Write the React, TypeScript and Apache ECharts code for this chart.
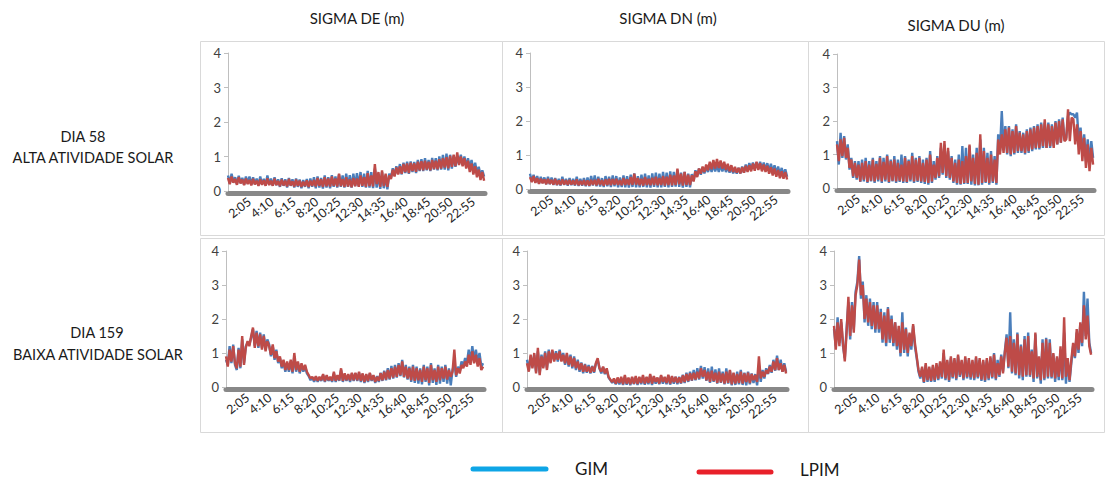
import React, { useEffect, useRef } from 'react';
import * as echarts from 'echarts';

// 5-minute time categories, 0:05 ... 24:00
const CATEGORIES: string[] = Array.from({ length: 288 }, (_, i) => {
  const m = (i + 1) * 5;
  return `${Math.floor(m / 60)}:${String(m % 60).padStart(2, '0')}`;
});
const TICK_LABELS = ['2:05', '4:10', '6:15', '8:20', '10:25', '12:30', '14:35', '16:40', '18:45', '20:50', '22:55'];
const SAMPLE_STEP = 2; // one value every 10 minutes (2 categories); each row below = 2 hours

const COLUMN_TITLES = ['SIGMA DE (m)', 'SIGMA DN (m)', 'SIGMA DU (m)'];
const ROW_TITLES = [
  ['DIA 58', 'ALTA ATIVIDADE SOLAR'],
  ['DIA 159', 'BAIXA ATIVIDADE SOLAR'],
];
const LEGEND_NAMES = ['GIM', 'LPIM'];

// ---- Day 58 ----
const DE58_GIM = [
  0.45, 0.22, 0.5, 0.26, 0.4, 0.2, 0.44, 0.23, 0.38, 0.18, 0.42, 0.22,
  0.42, 0.18, 0.4, 0.2, 0.36, 0.16, 0.42, 0.19, 0.35, 0.16, 0.45, 0.18,
  0.36, 0.15, 0.4, 0.17, 0.34, 0.12, 0.37, 0.15, 0.34, 0.1, 0.38, 0.15,
  0.34, 0.1, 0.36, 0.12, 0.33, 0.08, 0.32, 0.12, 0.35, 0.08, 0.36, 0.12,
  0.4, 0.08, 0.42, 0.1, 0.38, 0.07, 0.45, 0.1, 0.4, 0.08, 0.46, 0.12,
  0.42, 0.1, 0.48, 0.12, 0.45, 0.1, 0.5, 0.12, 0.46, 0.1, 0.5, 0.14,
  0.52, 0.14, 0.55, 0.12, 0.5, 0.1, 0.58, 0.1, 0.55, 0.08, 0.65, 0.1,
  0.5, 0.06, 0.55, 0.08, 0.45, 0.05, 0.5, 0.38, 0.66, 0.45, 0.72, 0.5,
  0.78, 0.48, 0.82, 0.52, 0.85, 0.5, 0.86, 0.55, 0.84, 0.52, 0.9, 0.58,
  0.92, 0.58, 0.95, 0.6, 0.9, 0.58, 0.96, 0.62, 0.95, 0.6, 1.0, 0.62,
  1.05, 0.62, 1.08, 0.6, 1.05, 0.65, 1.02, 0.7, 1.0, 0.78, 1.05, 0.75,
  1.0, 0.72, 0.95, 0.65, 0.9, 0.58, 0.82, 0.52, 0.7, 0.45, 0.6, 0.42,
];
const DE58_LPIM = [
  0.38, 0.2, 0.42, 0.24, 0.35, 0.18, 0.4, 0.22, 0.33, 0.17, 0.36, 0.2,
  0.32, 0.16, 0.35, 0.19, 0.3, 0.15, 0.34, 0.18, 0.31, 0.15, 0.37, 0.17,
  0.3, 0.15, 0.36, 0.17, 0.29, 0.14, 0.33, 0.16, 0.3, 0.13, 0.35, 0.16,
  0.28, 0.13, 0.33, 0.15, 0.3, 0.12, 0.27, 0.14, 0.31, 0.12, 0.3, 0.15,
  0.32, 0.13, 0.38, 0.15, 0.34, 0.12, 0.4, 0.14, 0.36, 0.13, 0.42, 0.15,
  0.36, 0.13, 0.5, 0.14, 0.35, 0.12, 0.4, 0.13, 0.34, 0.11, 0.38, 0.14,
  0.36, 0.12, 0.45, 0.15, 0.4, 0.12, 0.52, 0.14, 0.45, 0.13, 0.78, 0.2,
  0.55, 0.12, 0.6, 0.14, 0.5, 0.12, 0.45, 0.35, 0.62, 0.42, 0.68, 0.48,
  0.72, 0.5, 0.78, 0.55, 0.8, 0.52, 0.82, 0.58, 0.8, 0.56, 0.85, 0.6,
  0.86, 0.6, 0.88, 0.62, 0.85, 0.6, 0.9, 0.64, 0.88, 0.63, 0.92, 0.65,
  0.95, 0.68, 0.98, 0.66, 1.02, 0.7, 1.05, 0.72, 1.12, 0.75, 1.0, 0.72,
  0.95, 0.65, 0.88, 0.55, 0.8, 0.48, 0.72, 0.4, 0.62, 0.32, 0.55, 0.3,
];
const DN58_GIM = [
  0.45, 0.22, 0.42, 0.2, 0.38, 0.16, 0.36, 0.18, 0.34, 0.14, 0.36, 0.14,
  0.34, 0.12, 0.32, 0.11, 0.3, 0.1, 0.36, 0.12, 0.3, 0.1, 0.32, 0.11,
  0.3, 0.1, 0.36, 0.09, 0.3, 0.1, 0.32, 0.08, 0.34, 0.08, 0.38, 0.1,
  0.4, 0.08, 0.36, 0.07, 0.32, 0.06, 0.38, 0.08, 0.36, 0.06, 0.4, 0.08,
  0.38, 0.05, 0.34, 0.06, 0.4, 0.05, 0.38, 0.04, 0.42, 0.06, 0.46, 0.05,
  0.38, 0.05, 0.42, 0.06, 0.45, 0.05, 0.4, 0.04, 0.46, 0.06, 0.48, 0.05,
  0.45, 0.05, 0.5, 0.06, 0.48, 0.05, 0.52, 0.06, 0.5, 0.07, 0.56, 0.06,
  0.48, 0.04, 0.5, 0.06, 0.45, 0.05, 0.44, 0.24, 0.55, 0.38, 0.6, 0.42,
  0.62, 0.46, 0.66, 0.5, 0.7, 0.5, 0.72, 0.52, 0.7, 0.5, 0.72, 0.52,
  0.7, 0.5, 0.66, 0.48, 0.62, 0.46, 0.6, 0.45, 0.62, 0.46, 0.66, 0.48,
  0.72, 0.55, 0.76, 0.58, 0.78, 0.6, 0.78, 0.6, 0.8, 0.58, 0.78, 0.56,
  0.76, 0.52, 0.74, 0.5, 0.7, 0.45, 0.66, 0.42, 0.62, 0.4, 0.58, 0.36,
];
const DN58_LPIM = [
  0.35, 0.2, 0.38, 0.18, 0.32, 0.15, 0.3, 0.17, 0.28, 0.14, 0.3, 0.15,
  0.27, 0.13, 0.3, 0.12, 0.25, 0.12, 0.28, 0.13, 0.26, 0.12, 0.27, 0.13,
  0.25, 0.12, 0.28, 0.11, 0.24, 0.12, 0.26, 0.11, 0.25, 0.1, 0.27, 0.12,
  0.27, 0.11, 0.3, 0.12, 0.26, 0.1, 0.28, 0.12, 0.3, 0.11, 0.29, 0.13,
  0.3, 0.12, 0.26, 0.11, 0.32, 0.12, 0.28, 0.12, 0.35, 0.12, 0.45, 0.13,
  0.32, 0.11, 0.3, 0.1, 0.35, 0.12, 0.3, 0.11, 0.33, 0.12, 0.36, 0.11,
  0.32, 0.12, 0.38, 0.1, 0.36, 0.12, 0.42, 0.11, 0.4, 0.12, 0.6, 0.14,
  0.45, 0.1, 0.5, 0.12, 0.42, 0.12, 0.4, 0.22, 0.52, 0.35, 0.6, 0.45,
  0.66, 0.5, 0.72, 0.55, 0.8, 0.58, 0.85, 0.6, 0.88, 0.62, 0.84, 0.6,
  0.8, 0.56, 0.74, 0.52, 0.7, 0.5, 0.65, 0.48, 0.62, 0.46, 0.64, 0.48,
  0.68, 0.5, 0.7, 0.52, 0.75, 0.54, 0.8, 0.56, 0.76, 0.52, 0.72, 0.5,
  0.68, 0.45, 0.64, 0.4, 0.6, 0.36, 0.56, 0.32, 0.52, 0.3, 0.5, 0.28,
];
const DU58_GIM = [
  1.4, 0.7, 1.65, 0.9, 1.55, 0.85, 1.3, 0.55, 0.9, 0.3, 0.8, 0.25,
  0.8, 0.18, 0.85, 0.2, 0.9, 0.15, 0.8, 0.2, 0.9, 0.15, 0.8, 0.2,
  0.95, 0.15, 0.9, 0.2, 1.0, 0.15, 0.85, 0.2, 0.95, 0.15, 0.85, 0.18,
  1.0, 0.15, 0.95, 0.15, 0.85, 0.2, 1.05, 0.15, 0.9, 0.18, 0.95, 0.15,
  0.85, 0.12, 0.9, 0.1, 1.1, 0.15, 0.8, 0.25, 0.95, 0.3, 1.2, 0.4,
  1.3, 0.3, 1.1, 0.25, 0.95, 0.15, 0.85, 0.1, 1.0, 0.1, 1.25, 0.12,
  1.2, 0.12, 1.25, 0.1, 1.0, 0.08, 1.2, 0.08, 1.45, 0.1, 1.2, 0.15,
  1.05, 0.1, 1.1, 0.15, 0.95, 0.1, 1.6, 1.1, 2.3, 1.15, 1.85, 1.0,
  1.85, 0.95, 1.75, 1.0, 1.9, 1.05, 1.7, 1.05, 1.65, 1.0, 1.75, 1.05,
  1.8, 1.1, 1.85, 1.15, 1.9, 1.15, 1.95, 1.2, 1.95, 1.2, 1.95, 1.2,
  1.9, 1.25, 2.0, 1.3, 2.05, 1.35, 2.1, 1.45, 1.5, 2.15, 2.25, 2.2,
  2.2, 2.1, 2.25, 1.4, 1.8, 1.0, 1.6, 0.8, 1.45, 0.7, 1.4, 0.9,
];
const DU58_LPIM = [
  1.3, 0.8, 1.45, 0.95, 1.5, 0.9, 1.2, 0.6, 0.85, 0.35, 0.75, 0.3,
  0.7, 0.2, 0.75, 0.25, 0.8, 0.18, 0.7, 0.22, 0.85, 0.2, 0.72, 0.25,
  0.9, 0.2, 0.78, 0.25, 0.95, 0.18, 0.8, 0.22, 0.85, 0.2, 0.75, 0.22,
  0.7, 0.2, 0.9, 0.18, 0.8, 0.25, 0.95, 0.2, 0.85, 0.22, 0.9, 0.2,
  0.75, 0.18, 0.85, 0.15, 1.0, 0.2, 0.7, 0.3, 0.9, 0.35, 1.35, 0.45,
  1.4, 0.35, 1.2, 0.3, 0.9, 0.2, 0.75, 0.15, 0.85, 0.12, 0.8, 0.15,
  0.95, 0.15, 1.3, 0.2, 0.9, 0.12, 1.05, 0.1, 1.6, 0.15, 1.1, 0.18,
  0.9, 0.15, 1.0, 0.2, 0.85, 0.15, 1.45, 1.0, 1.6, 1.05, 1.75, 1.05,
  1.8, 1.0, 1.7, 1.05, 1.85, 1.1, 1.65, 1.1, 1.6, 1.05, 1.7, 1.1,
  1.75, 1.15, 1.8, 1.2, 1.85, 1.2, 1.9, 1.25, 2.05, 1.2, 1.9, 1.25,
  1.85, 1.2, 1.95, 1.3, 2.0, 1.35, 2.05, 1.4, 1.45, 2.35, 1.4, 2.1,
  2.05, 1.3, 1.9, 1.0, 1.7, 0.8, 1.5, 0.6, 1.3, 0.5, 1.2, 0.7,
];

// ---- Day 159 ----
const DE159_GIM = [
  0.8, 0.65, 1.2, 0.7, 1.25, 0.65, 0.5, 1.15, 0.55, 1.4, 0.7, 1.2,
  1.3, 1.25, 1.45, 1.7, 1.2, 1.65, 1.15, 1.6, 1.15, 1.55, 1.1, 1.4,
  1.25, 0.9, 1.2, 0.8, 1.1, 0.7, 0.85, 0.55, 0.75, 0.45, 0.7, 0.45,
  0.75, 0.4, 0.9, 0.45, 0.7, 0.4, 0.65, 0.45, 0.6, 0.4, 0.32, 0.2,
  0.28, 0.15, 0.3, 0.15, 0.28, 0.18, 0.35, 0.15, 0.32, 0.18, 0.28, 0.15,
  0.4, 0.15, 0.33, 0.18, 0.5, 0.15, 0.38, 0.18, 0.35, 0.15, 0.4, 0.18,
  0.4, 0.18, 0.42, 0.15, 0.38, 0.12, 0.36, 0.15, 0.4, 0.18, 0.33, 0.12,
  0.32, 0.15, 0.42, 0.18, 0.48, 0.2, 0.55, 0.22, 0.62, 0.25, 0.65, 0.28,
  0.7, 0.32, 0.8, 0.28, 0.65, 0.22, 0.6, 0.15, 0.65, 0.12, 0.6, 0.1,
  0.55, 0.08, 0.65, 0.15, 0.6, 0.05, 0.7, 0.12, 0.55, 0.06, 0.65, 0.1,
  0.6, 0.15, 0.65, 0.1, 0.55, 0.05, 0.5, 0.7, 0.3, 0.6, 0.45, 0.75,
  0.6, 0.85, 0.7, 1.1, 0.75, 1.2, 0.8, 1.1, 0.7, 1.0, 0.6, 0.7,
];
const DE159_LPIM = [
  0.9, 0.6, 1.1, 0.75, 1.2, 0.7, 0.55, 1.1, 0.6, 1.5, 0.65, 1.15,
  1.35, 1.2, 1.5, 1.75, 1.15, 1.6, 1.2, 1.55, 1.1, 1.5, 1.05, 1.35,
  1.2, 0.95, 1.25, 0.85, 1.05, 0.75, 0.9, 0.6, 0.8, 0.5, 0.75, 0.5,
  0.8, 0.45, 1.0, 0.5, 0.75, 0.45, 0.7, 0.5, 0.65, 0.45, 0.35, 0.25,
  0.3, 0.2, 0.32, 0.18, 0.3, 0.2, 0.38, 0.17, 0.35, 0.2, 0.3, 0.18,
  0.45, 0.18, 0.35, 0.2, 0.55, 0.18, 0.4, 0.2, 0.38, 0.19, 0.42, 0.2,
  0.42, 0.2, 0.45, 0.18, 0.4, 0.15, 0.38, 0.18, 0.42, 0.2, 0.35, 0.15,
  0.3, 0.18, 0.4, 0.2, 0.45, 0.22, 0.5, 0.25, 0.55, 0.28, 0.6, 0.3,
  0.65, 0.35, 0.75, 0.3, 0.6, 0.25, 0.55, 0.2, 0.6, 0.18, 0.55, 0.2,
  0.5, 0.15, 0.6, 0.2, 0.55, 0.12, 0.65, 0.2, 0.5, 0.15, 0.6, 0.2,
  0.55, 0.25, 0.6, 0.22, 0.5, 0.3, 0.45, 1.1, 0.35, 0.55, 0.4, 0.65,
  0.55, 0.75, 0.6, 0.95, 0.65, 1.05, 0.7, 0.95, 0.6, 0.85, 0.5, 0.6,
];
const DN159_GIM = [
  0.8, 0.5, 0.9, 0.6, 0.95, 0.45, 1.05, 0.4, 0.95, 0.6, 1.05, 0.55,
  1.1, 0.75, 1.05, 0.8, 1.05, 0.75, 1.1, 0.8, 1.0, 0.65, 0.95, 0.6,
  0.95, 0.55, 0.9, 0.5, 0.8, 0.45, 0.72, 0.4, 0.68, 0.42, 0.65, 0.4,
  0.62, 0.42, 0.68, 0.8, 0.55, 0.4, 0.58, 0.38, 0.5, 0.28, 0.2, 0.12,
  0.2, 0.08, 0.22, 0.08, 0.25, 0.06, 0.3, 0.07, 0.25, 0.05, 0.28, 0.08,
  0.28, 0.06, 0.28, 0.08, 0.3, 0.07, 0.28, 0.08, 0.34, 0.06, 0.3, 0.1,
  0.26, 0.08, 0.32, 0.1, 0.28, 0.08, 0.34, 0.07, 0.3, 0.1, 0.3, 0.08,
  0.3, 0.1, 0.36, 0.12, 0.42, 0.15, 0.45, 0.18, 0.5, 0.2, 0.55, 0.22,
  0.62, 0.25, 0.58, 0.18, 0.55, 0.12, 0.6, 0.15, 0.52, 0.1, 0.55, 0.12,
  0.45, 0.08, 0.55, 0.1, 0.48, 0.05, 0.4, 0.06, 0.45, 0.08, 0.5, 0.06,
  0.42, 0.05, 0.45, 0.08, 0.4, 0.12, 0.38, 0.05, 0.6, 0.15, 0.5, 0.25,
  0.55, 0.38, 0.65, 0.42, 0.8, 0.48, 0.92, 0.5, 0.8, 0.45, 0.7, 0.45,
];
const DN159_LPIM = [
  0.7, 0.45, 0.95, 0.55, 1.0, 0.4, 1.15, 0.35, 0.9, 0.55, 1.0, 0.5,
  1.05, 0.7, 1.1, 0.75, 1.0, 0.8, 1.05, 0.75, 0.95, 0.7, 1.0, 0.65,
  0.9, 0.6, 0.85, 0.55, 0.75, 0.5, 0.7, 0.45, 0.65, 0.45, 0.6, 0.42,
  0.6, 0.45, 0.7, 0.85, 0.55, 0.45, 0.6, 0.4, 0.55, 0.3, 0.22, 0.15,
  0.25, 0.1, 0.28, 0.12, 0.3, 0.08, 0.35, 0.1, 0.28, 0.08, 0.3, 0.1,
  0.32, 0.09, 0.3, 0.12, 0.35, 0.1, 0.3, 0.12, 0.38, 0.1, 0.32, 0.15,
  0.28, 0.1, 0.35, 0.15, 0.3, 0.12, 0.36, 0.1, 0.32, 0.14, 0.3, 0.12,
  0.28, 0.12, 0.34, 0.15, 0.38, 0.18, 0.4, 0.2, 0.42, 0.22, 0.45, 0.25,
  0.55, 0.3, 0.5, 0.2, 0.45, 0.15, 0.48, 0.18, 0.42, 0.12, 0.45, 0.14,
  0.4, 0.1, 0.45, 0.12, 0.5, 0.08, 0.42, 0.1, 0.38, 0.12, 0.45, 0.1,
  0.4, 0.15, 0.42, 0.12, 0.38, 0.2, 0.35, 0.15, 0.9, 0.25, 0.45, 0.3,
  0.5, 0.4, 0.6, 0.45, 0.75, 0.5, 0.85, 0.5, 0.7, 0.45, 0.65, 0.4,
];
const DU159_GIM = [
  1.7, 1.2, 2.05, 1.3, 1.9, 1.2, 0.85, 1.7, 2.5, 1.4, 2.5, 1.7,
  2.8, 3.1, 3.85, 2.6, 3.1, 1.9, 2.7, 1.8, 2.6, 1.7, 2.5, 1.6,
  2.5, 1.6, 2.3, 1.3, 2.2, 1.2, 2.35, 1.3, 2.1, 1.2, 1.9, 1.1,
  1.7, 0.9, 2.2, 1.0, 1.75, 0.9, 1.55, 1.1, 1.8, 1.2, 0.85, 0.45,
  0.25, 0.55, 0.12, 0.65, 0.15, 0.55, 0.15, 0.6, 0.15, 0.65, 0.2, 0.7,
  0.25, 1.0, 0.2, 0.75, 0.15, 0.85, 0.25, 0.8, 0.2, 0.9, 0.3, 0.75,
  0.2, 0.85, 0.25, 0.8, 0.22, 0.75, 0.2, 0.85, 0.25, 0.8, 0.18, 0.75,
  0.15, 0.8, 0.2, 0.85, 0.25, 1.0, 0.2, 0.8, 0.3, 0.95, 0.45, 1.05,
  1.55, 0.55, 2.2, 0.4, 1.4, 0.35, 1.6, 0.25, 1.25, 0.2, 1.5, 0.3,
  1.6, 0.3, 1.1, 0.15, 1.55, 0.25, 0.85, 0.1, 1.4, 0.2, 1.45, 0.25,
  1.4, 0.25, 0.95, 0.15, 0.85, 0.2, 1.1, 0.2, 1.6, 0.1, 0.8, 0.15,
  0.7, 1.2, 0.85, 1.6, 1.0, 1.85, 1.2, 2.8, 1.5, 2.6, 1.3, 1.0,
];
const DU159_LPIM = [
  1.8, 1.1, 1.9, 1.2, 2.0, 1.3, 0.75, 1.6, 2.65, 1.5, 2.4, 1.6,
  2.7, 3.0, 3.75, 2.7, 3.0, 2.0, 2.6, 1.9, 2.5, 1.8, 2.4, 1.7,
  2.4, 1.7, 2.2, 1.4, 2.1, 1.3, 2.3, 1.4, 2.0, 1.3, 1.9, 1.2,
  1.8, 1.0, 1.9, 1.1, 1.7, 1.0, 1.6, 1.2, 1.85, 1.3, 0.9, 0.5,
  0.3, 0.6, 0.15, 0.7, 0.2, 0.6, 0.18, 0.65, 0.2, 0.7, 0.25, 0.75,
  0.3, 1.1, 0.25, 0.8, 0.2, 0.9, 0.3, 0.85, 0.25, 0.95, 0.35, 0.8,
  0.25, 0.9, 0.3, 0.85, 0.28, 0.8, 0.25, 0.9, 0.3, 0.85, 0.22, 0.8,
  0.2, 0.85, 0.25, 0.9, 0.3, 0.95, 0.25, 0.7, 0.35, 0.9, 0.4, 1.0,
  1.45, 0.6, 1.5, 0.45, 1.3, 0.4, 1.55, 0.35, 1.2, 0.3, 1.4, 0.35,
  1.5, 0.35, 1.05, 0.25, 1.6, 0.3, 0.9, 0.2, 1.3, 0.25, 1.4, 0.3,
  1.3, 0.3, 1.0, 0.25, 0.9, 0.3, 1.2, 0.25, 2.05, 0.3, 0.85, 0.2,
  0.8, 1.3, 0.9, 1.7, 1.1, 1.9, 1.3, 2.4, 1.4, 2.1, 1.2, 0.95,
];

const FONT = 'Lato, "Open Sans", sans-serif';
const GIM_COLOR = '#4a7ebb';
const LPIM_COLOR = '#be4b48';

const toPairs = (arr: number[]) => arr.map((v, k) => [k * SAMPLE_STEP, v]);

const PANELS = [
  { gim: DE58_GIM, lpim: DE58_LPIM, left: 228, top: 53, width: 257, height: 138 },
  { gim: DN58_GIM, lpim: DN58_LPIM, left: 530, top: 53, width: 258, height: 136 },
  { gim: DU58_GIM, lpim: DU58_LPIM, left: 837, top: 54, width: 257, height: 134 },
  { gim: DE159_GIM, lpim: DE159_LPIM, left: 226, top: 251, width: 258, height: 136 },
  { gim: DN159_GIM, lpim: DN159_LPIM, left: 527, top: 251, width: 260, height: 136 },
  { gim: DU159_GIM, lpim: DU159_LPIM, left: 834, top: 251, width: 258, height: 136 },
];

export default function App() {
  const ref = useRef<HTMLDivElement>(null);
  useEffect(() => {
    if (!ref.current) return;
    const chart = echarts.init(ref.current, undefined, { renderer: 'svg' });

    const border = '#d9d9d9';
    const boxes: any[] = [];
    const cols = [[200, 502], [502, 808], [808, 1104]];
    const rows = [[41, 235], [238, 432]];
    rows.forEach(([y1, y2]) =>
      cols.forEach(([x1, x2]) =>
        boxes.push({
          type: 'rect',
          shape: { x: x1 + 0.5, y: y1 + 0.5, width: x2 - x1, height: y2 - y1 },
          style: { fill: 'none', stroke: border, lineWidth: 1 },
          silent: true,
        })
      )
    );

    const titlePos = [[357, 18], [668, 18], [956, 25]];
    const titles = COLUMN_TITLES.map((t, i) => ({
      type: 'text',
      x: titlePos[i][0],
      y: titlePos[i][1],
      style: { text: t, fill: '#1a1a1a', font: `15px ${FONT}`, align: 'center', verticalAlign: 'middle' },
    }));

    const rowPos = [
      [[83, 136], [93, 157]],
      [[97, 332], [98, 354]],
    ];
    const rowTexts: any[] = [];
    ROW_TITLES.forEach((lines, r) =>
      lines.forEach((t, j) =>
        rowTexts.push({
          type: 'text',
          x: rowPos[r][j][0],
          y: rowPos[r][j][1],
          style: { text: t, fill: '#1a1a1a', font: `14.5px ${FONT}`, align: 'center', verticalAlign: 'middle' },
        })
      )
    );

    const legend = [
      { type: 'line', shape: { x1: 473, y1: 469, x2: 546, y2: 469 }, style: { stroke: '#0ea5e6', lineWidth: 5, lineCap: 'round' } },
      { type: 'text', x: 575, y: 468, style: { text: LEGEND_NAMES[0], fill: '#1a1a1a', font: `17px ${FONT}`, align: 'left', verticalAlign: 'middle' } },
      { type: 'line', shape: { x1: 699, y1: 472, x2: 771, y2: 472 }, style: { stroke: '#e8202a', lineWidth: 5, lineCap: 'round' } },
      { type: 'text', x: 800, y: 469, style: { text: LEGEND_NAMES[1], fill: '#1a1a1a', font: `17px ${FONT}`, align: 'left', verticalAlign: 'middle' } },
    ];

    const option: any = {
      animation: false,
      backgroundColor: '#fff',
      textStyle: { fontFamily: FONT },
      grid: PANELS.map((p) => ({ left: p.left, top: p.top, width: p.width, height: p.height })),
      xAxis: PANELS.map((p, i) => ({
        type: 'category',
        gridIndex: i,
        data: CATEGORIES,
        boundaryGap: false,
        offset: 2,
        axisLine: { onZero: false, lineStyle: { color: '#888888', width: 5 } },
        axisTick: { show: false },
        splitLine: { show: false },
        axisLabel: {
          interval: (_idx: number, val: string) => TICK_LABELS.includes(val),
          rotate: 38,
          fontSize: 12.5,
          color: '#262626',
          margin: 7,
          fontFamily: FONT,
          hideOverlap: false,
          showMinLabel: true,
          showMaxLabel: true,
        },
      })),
      yAxis: PANELS.map((p, i) => ({
        type: 'value',
        gridIndex: i,
        min: 0,
        max: 4,
        interval: 1,
        axisLine: { show: true, lineStyle: { color: '#bfbfbf', width: 1 } },
        axisTick: { show: true, length: 4, lineStyle: { color: '#bfbfbf' } },
        splitLine: { show: false },
        axisLabel: { color: '#404040', fontSize: 13, margin: 7, fontFamily: FONT },
      })),
      series: PANELS.flatMap((p, i) => [
        {
          name: LEGEND_NAMES[0],
          type: 'line',
          xAxisIndex: i,
          yAxisIndex: i,
          data: toPairs(p.gim),
          symbol: 'none',
          lineStyle: { color: GIM_COLOR, width: 2.4 },
          z: 2,
        },
        {
          name: LEGEND_NAMES[1],
          type: 'line',
          xAxisIndex: i,
          yAxisIndex: i,
          data: toPairs(p.lpim),
          symbol: 'none',
          lineStyle: { color: LPIM_COLOR, width: 2.4 },
          z: 3,
        },
      ]),
      graphic: [...boxes, ...titles, ...rowTexts, ...legend],
    };
    chart.setOption(option);
    return () => chart.dispose();
  }, []);

  return (
    <div
      ref={ref}
      style={{ position: 'fixed', left: 0, top: 0, width: 1105, height: 479, background: '#fff' }}
    />
  );
}
